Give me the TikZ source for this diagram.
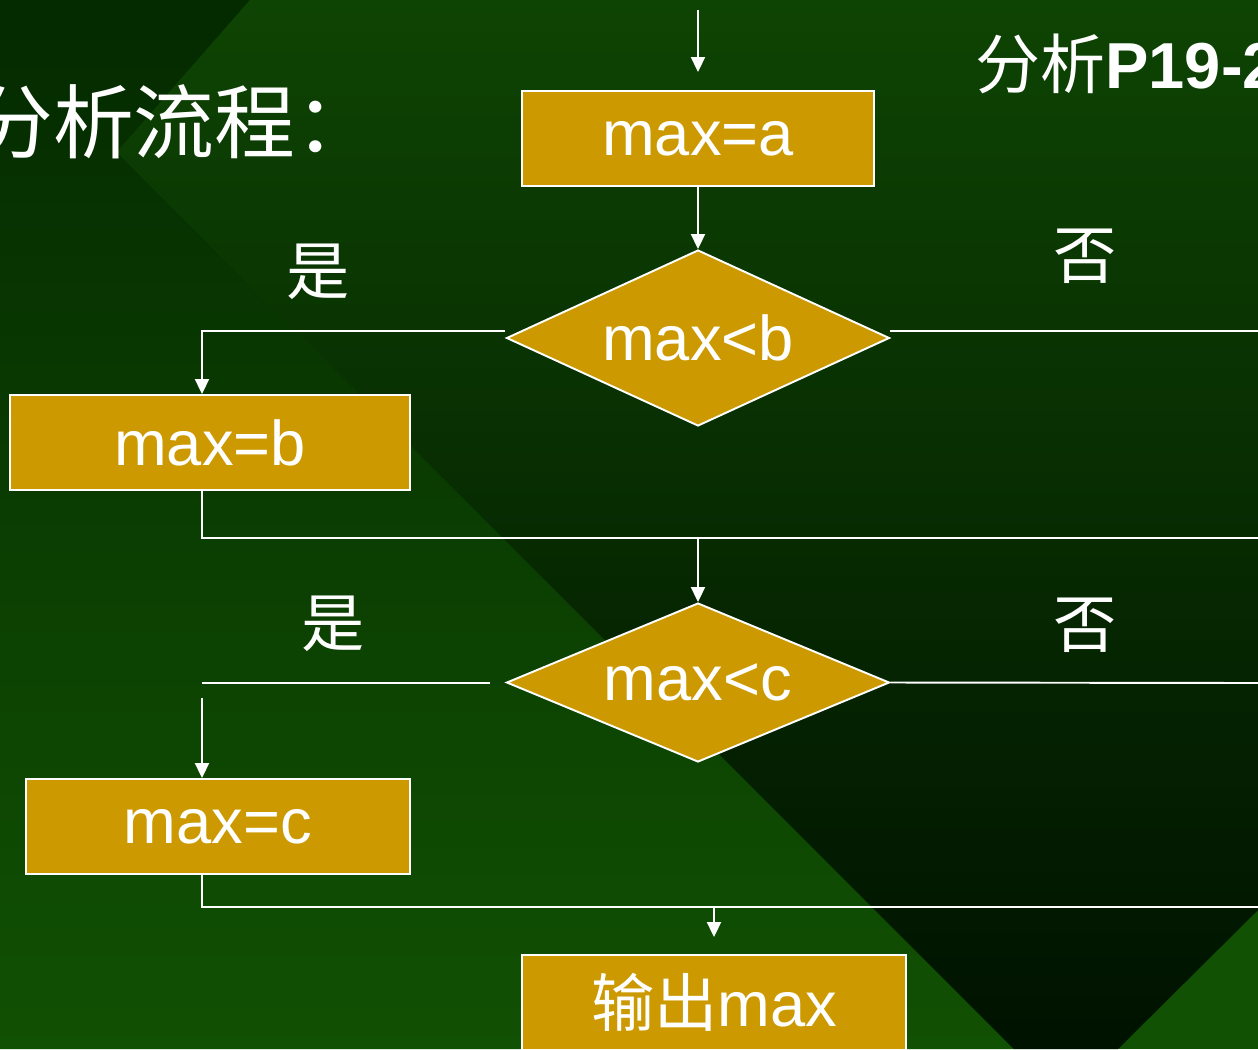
\documentclass[tikz,border=0pt]{standalone}
\usepackage{fontspec}
\setmainfont{Liberation Sans}
\newfontfamily\cjk{Noto Sans CJK SC}
\usetikzlibrary{shapes.geometric,arrows.meta}
\definecolor{gold}{HTML}{CC9900}
\definecolor{bglow}{HTML}{115103}
\definecolor{bgleft}{HTML}{042A00}
\definecolor{bgmid}{HTML}{0C4002}
\definecolor{bgtop}{HTML}{0E4403}
\definecolor{bgdark}{HTML}{001200}

\begin{document}
\begin{tikzpicture}[x=0.02cm,y=-0.02cm,
                    box/.style={rectangle,draw=white,line width=1.1pt,fill=gold,text=white,
                                minimum height=1.9cm,inner sep=0pt,font=\fontsize{36}{40}\selectfont},
                    decide/.style={diamond,draw=white,line width=1.1pt,fill=gold,text=white,
                                   aspect=2.2,inner sep=0pt,font=\fontsize{36}{40}\selectfont},
                    wire/.style={draw=white,line width=1.1pt},
                    arr/.style={wire,-{Triangle[length=0.3cm,width=0.28cm]}},
                    lbl/.style={text=white,inner sep=0pt,font=\cjk\fontsize{36}{40}\selectfont}]

          \useasboundingbox (0,0) rectangle (1258,1049);
          \clip (0,0) rectangle (1258,1049);

          % background
          \fill[bglow] (0,0) rectangle (1258,1049);
          \shade[top color=bgleft,middle color=bgmid,bottom color=bglow]
            (0,0) -- (250,0) -- (117,152) -- (1014,1049) -- (0,1049) -- cycle;
          \shade[top color=bgtop,middle color=bgtop!50!black,bottom color=bgdark]
            (250,0) -- (1258,0) -- (1258,910) -- (1118,1049) -- (1014,1049) -- (117,152) -- cycle;

          % flow nodes
          \node[box,minimum width=7.04cm] (seta) at (698,138.5) {max=a};
          \node[decide,minimum width=7.66cm,minimum height=3.52cm] (ifb) at (698,338) {max<b};
          \node[box,minimum width=8cm] (setb) at (210,442.5) {max=b};
          \node[decide,minimum width=7.66cm,minimum height=3.18cm] (ifc) at (698,682.5) {max<c};
          \node[box,minimum width=7.68cm] (setc) at (218,826.5) {max=c};
          \node[box,minimum width=7.68cm] (out) at (714,1002.5) {{\cjk 输出}max};

          % texts
          \node[lbl,anchor=west,font=\cjk\fontsize{46}{50}\selectfont] (title) at (-28,122) {分析流程：};
          \node[lbl,anchor=west,font=\fontsize{37}{40}\selectfont] (ref) at (975,64) {{\cjk 分析}\textbf{P19-2}};
          \node[lbl] (yes1) at (318,272) {是};
          \node[lbl] (no1) at (1085,256) {否};
          \node[lbl] (yes2) at (333,624) {是};
          \node[lbl] (no2) at (1085,625) {否};

          % bends and loose ends
          \coordinate (in) at (698,10);
          \coordinate (bs) at (505,331);
          \coordinate (bl) at (202,331);
          \coordinate (bw) at (890,331);
          \coordinate (br) at (1258,331);
          \coordinate (m1) at (202,538);
          \coordinate (r1) at (1258,538);
          \coordinate (cs) at (490,683);
          \coordinate (cl) at (202,683);
          \coordinate (ca) at (202,698);
          \coordinate (r2) at (1258,683);
          \coordinate (m2) at (202,907);
          \coordinate (r3) at (1258,907);

          % arrows
          \draw[arr] (in) -- ([yshift=0.36cm]seta.north);
          \draw[arr] (seta) -- (ifb);
          \draw[arr] (bs) -- (bl) -- (bl |- setb.north);
          \draw[arr] (ifc.north |- m1) -- (ifc);
          \draw[arr] (ca) -- (ca |- setc.north);
          \draw[arr] (out.north |- m2) -- ([yshift=0.34cm]out.north);

          % plain lines
          \foreach \source/\target in {bw/br, cs/cl, ifc.east/r2}
            \draw[wire] (\source) -- (\target);
          \draw[wire] (setb.south -| m1) -- (m1) -- (r1);
          \draw[wire] (setc.south -| m2) -- (m2) -- (r3);
        \end{tikzpicture}
\end{document}
